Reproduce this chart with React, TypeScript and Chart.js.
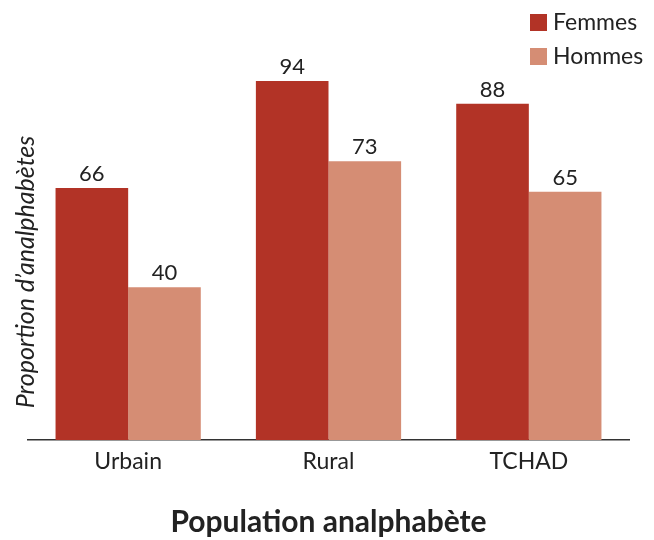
import React, { useEffect, useRef } from "react";
import { Chart, registerables } from "chart.js";

Chart.register(...registerables);

const categories = ["Urbain", "Rural", "TCHAD"];
const femmes = [66, 94, 88];
const hommes = [40, 73, 65];
const seriesLabels = ["Femmes", "Hommes"];
const colors = ["#B23326", "#D58D74"];
const yTitle = "Proportion d\u2019analphabètes";
const xTitle = "Population analphabète";

const FONT = "Lato, 'Open Sans', sans-serif";

const overlay = {
  id: "overlay",
  afterDatasetsDraw(chart: any) {
    const ctx = chart.ctx;
    ctx.save();
    // data labels
    ctx.fillStyle = "#222";
    ctx.font = `22px ${FONT}`;
    ctx.textAlign = "center";
    ctx.textBaseline = "bottom";
    chart.data.datasets.forEach((ds: any, di: number) => {
      const meta = chart.getDatasetMeta(di);
      meta.data.forEach((bar: any, i: number) => {
        ctx.fillText(String(ds.data[i]), bar.x, bar.y - 3);
      });
    });
    // legend
    chart.data.datasets.forEach((ds: any, di: number) => {
      const y = 14 + di * 34;
      ctx.fillStyle = ds.backgroundColor;
      ctx.fillRect(530, y, 17, 17);
      ctx.fillStyle = "#222";
      ctx.font = `23px ${FONT}`;
      ctx.textAlign = "left";
      ctx.textBaseline = "middle";
      ctx.fillText(ds.label, 553, y + 9);
    });
    // y title
    ctx.translate(26, 272);
    ctx.rotate(-Math.PI / 2);
    ctx.font = `italic 25px ${FONT}`;
    ctx.textAlign = "center";
    ctx.textBaseline = "middle";
    ctx.fillStyle = "#222";
    ctx.fillText(yTitle, 0, 0);
    ctx.restore();
  },
};

export default function App() {
  const ref = useRef<HTMLCanvasElement>(null);
  useEffect(() => {
    document.body.style.margin = "0";
    const chart = new Chart(ref.current!, {
      type: "bar",
      data: {
        labels: categories,
        datasets: [
          { label: seriesLabels[0], data: femmes, backgroundColor: colors[0] },
          { label: seriesLabels[1], data: hommes, backgroundColor: colors[1] },
        ],
      },
      options: {
        animation: false,
        responsive: false,
        maintainAspectRatio: false,
        layout: { padding: { left: 28, right: 25, top: 58, bottom: 0 } },
        datasets: { bar: { categoryPercentage: 0.725, barPercentage: 1 } },
        plugins: { legend: { display: false }, tooltip: { enabled: false } },
        scales: {
          y: { display: false, min: 0, max: 100 },
          x: {
            afterFit: (scale: any) => {
              scale.height = 100;
            },
            grid: { display: false, drawTicks: false },
            border: { display: true, color: "#333", width: 1.5 },
            ticks: { color: "#222", font: { family: FONT, size: 23 }, padding: 8 },
            title: {
              display: true,
              text: xTitle,
              color: "#222",
              font: { family: FONT, size: 30, weight: "bold" },
              padding: { top: 0, bottom: 0 },
            },
          },
        },
      },
      plugins: [overlay],
    });
    return () => chart.destroy();
  }, []);
  return (
    <div style={{ position: "absolute", left: 0, top: 0, width: 654, height: 540 }}>
      <canvas ref={ref} width={654} height={540} />
    </div>
  );
}
